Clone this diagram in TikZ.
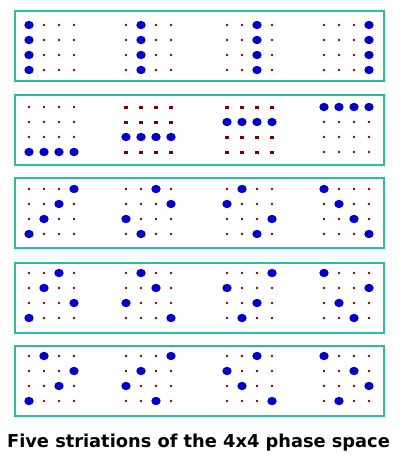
\documentclass[tikz,border=0pt]{standalone}
\usepackage{fontspec}
\setmainfont{DejaVu Sans}
\definecolor{boxteal}{RGB}{40,190,160}
\definecolor{dotblue}{RGB}{0,0,200}
\definecolor{dotred}{RGB}{128,0,0}
\tikzset{
  frame/.style={draw=boxteal, line width=2pt},
  smalldot/.style={fill=dotred},
  bigdot/.style={fill=dotblue},
}
\newcommand\smallgrid[2]{%
  \foreach \c in {0,...,3}{\foreach \r in {0,...,3}{%
    \fill[smalldot] (#1+15*\c, #2+15*\r) circle (1.4pt);}}}
\newcommand\squaregrid[2]{%
  \foreach \c in {0,...,3}{\foreach \r in {0,...,3}{%
    \fill[smalldot] (#1+15*\c-1.7, #2+15*\r-1.5) rectangle ++(3.4,3.0);}}}
\newcommand\bigdots[3]{%
  \foreach \c/\r in {#3}{%
    \fill[bigdot] (#1+15*\c, #2+15*\r) ellipse [x radius=4.7pt, y radius=4.2pt];}}
\begin{document}
\begin{tikzpicture}[x=1pt,y=-1pt]
\useasboundingbox (0,0) rectangle (400,466);
% frames
\foreach \t [count=\i] in {11,95,178,263,346}{
  \draw[frame] (15,\t) rectangle (384,\t+70);
}
% row 1 (y0 = 25)
\smallgrid{29}{25}\bigdots{29}{25}{0/0,0/1,0/2,0/3}
\smallgrid{126}{25}\bigdots{126}{25}{1/0,1/1,1/2,1/3}
\smallgrid{227}{25}\bigdots{227}{25}{2/0,2/1,2/2,2/3}
\smallgrid{324}{25}\bigdots{324}{25}{3/0,3/1,3/2,3/3}
% row 2 (y0 = 107)
\smallgrid{29}{107}\bigdots{29}{107}{0/3,1/3,2/3,3/3}
\squaregrid{126}{107}\bigdots{126}{107}{0/2,1/2,2/2,3/2}
\squaregrid{227}{107}\bigdots{227}{107}{0/1,1/1,2/1,3/1}
\smallgrid{324}{107}\bigdots{324}{107}{0/0,1/0,2/0,3/0}
% row 3 (y0 = 189)
\smallgrid{29}{189}\bigdots{29}{189}{3/0,2/1,1/2,0/3}
\smallgrid{126}{189}\bigdots{126}{189}{2/0,3/1,0/2,1/3}
\smallgrid{227}{189}\bigdots{227}{189}{1/0,0/1,3/2,2/3}
\smallgrid{324}{189}\bigdots{324}{189}{0/0,1/1,2/2,3/3}
% row 4 (y0 = 273)
\smallgrid{29}{273}\bigdots{29}{273}{2/0,1/1,3/2,0/3}
\smallgrid{126}{273}\bigdots{126}{273}{1/0,2/1,0/2,3/3}
\smallgrid{227}{273}\bigdots{227}{273}{3/0,0/1,2/2,1/3}
\smallgrid{324}{273}\bigdots{324}{273}{0/0,3/1,1/2,2/3}
% row 5 (y0 = 356)
\smallgrid{29}{356}\bigdots{29}{356}{1/0,3/1,2/2,0/3}
\smallgrid{126}{356}\bigdots{126}{356}{3/0,1/1,0/2,2/3}
\smallgrid{227}{356}\bigdots{227}{356}{2/0,0/1,1/2,3/3}
\smallgrid{324}{356}\bigdots{324}{356}{0/0,2/1,3/2,1/3}
% title
\node[anchor=base, inner sep=0pt, font=\bfseries\fontsize{17.8}{20}\selectfont] (title) at (198.5,447) {Five striations of the 4x4 phase space};
\end{tikzpicture}
\end{document}
